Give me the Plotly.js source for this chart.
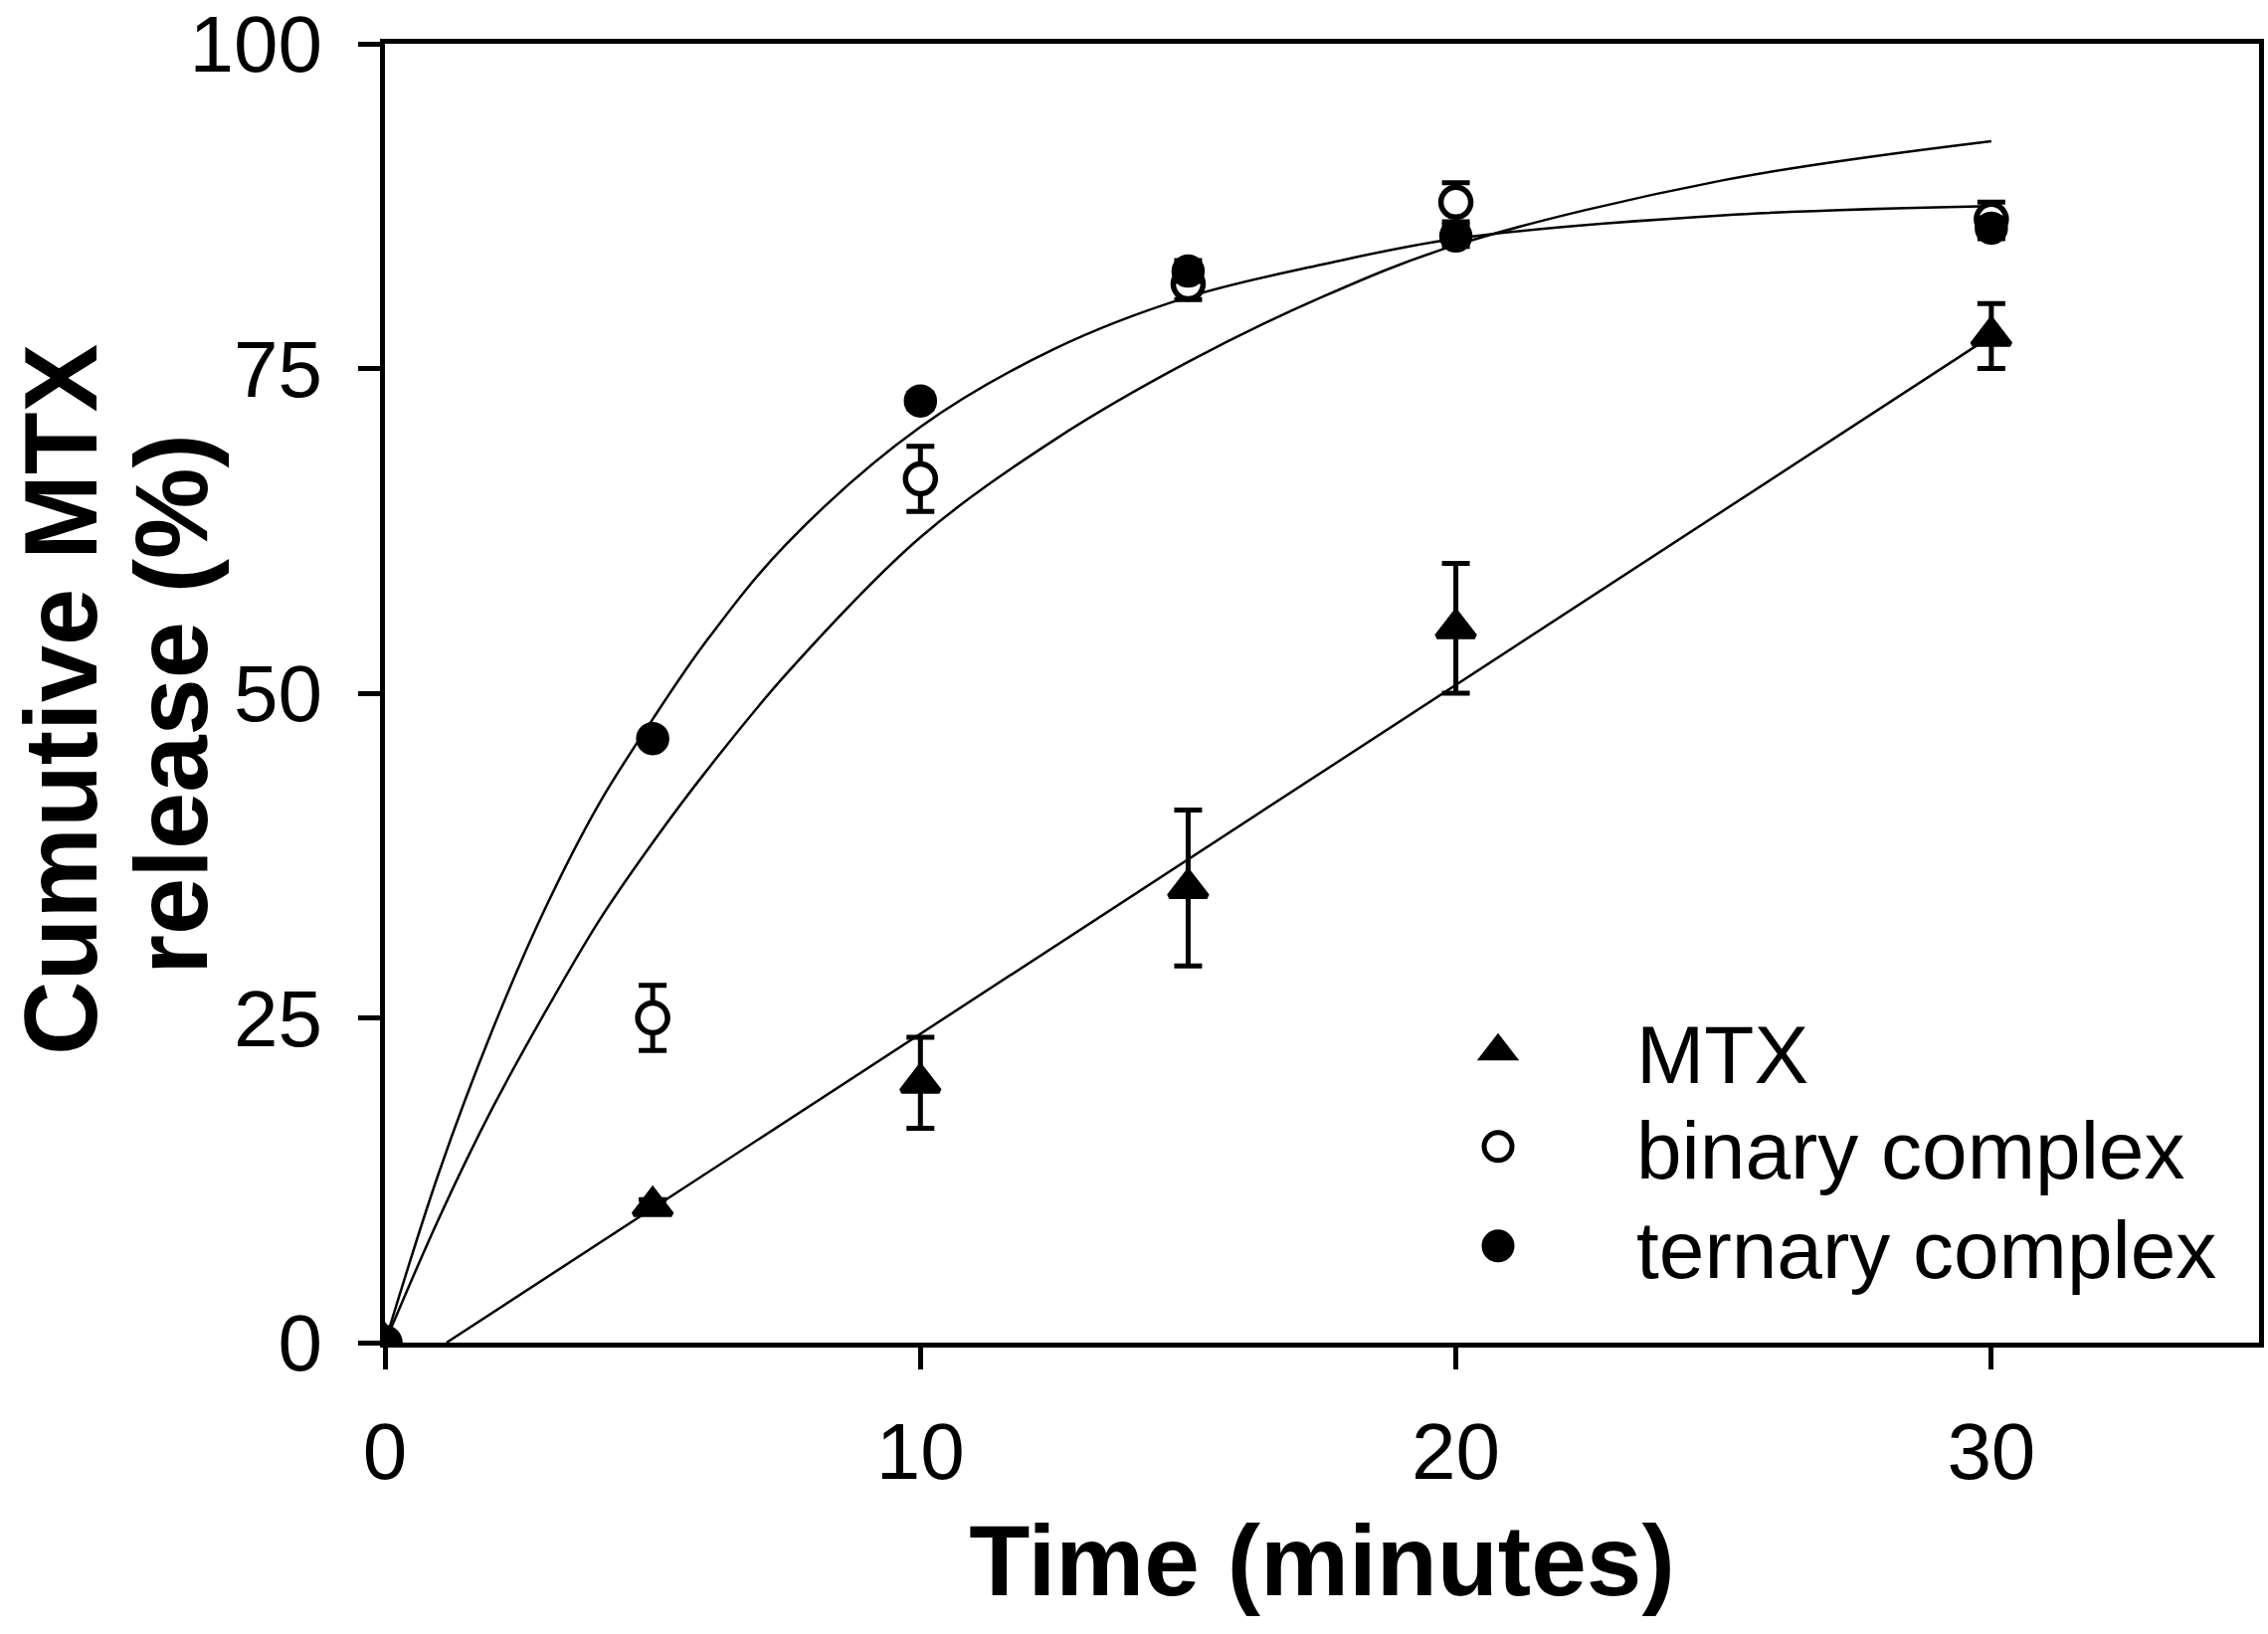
<!DOCTYPE html>
<html>
<head>
<meta charset="utf-8">
<script src="https://cdn.plot.ly/plotly-3.0.1.min.js"></script>
<style>
  html, body { margin: 0; padding: 0; background: #fff; }
  #chart { width: 2280px; height: 1643px; }
</style>
</head>
<body>
<div id="chart"></div>
<script>
// time points, minutes
const timeMin = [0, 5, 10, 15, 20, 30];

// cumulative release, %
const mtxRelease = [0, 10.5, 20, 35, 55, 77.5];
const mtxErr = [0, 0.5, 3.5, 6, 5, 2.5];

const binaryRelease = [0, 25, 66.5, 81.5, 87.8, 86.5];
const binaryErr = [0, 2.5, 2.5, 1.2, 1.5, 1.3];

const ternaryRelease = [0, 46.5, 72.5, 82.5, 85.2, 85.8];
const ternaryErr = [0, 0.5, 0.6, 0.8, 0.8, 0.8];

// fitted curves as drawn in the figure
const mtxFitX = [1.15, 30];
const mtxFitY = [0, 77.5];

const curveX = [0, 1, 2, 3, 4, 5, 6, 7.5, 10, 12.5, 15, 17.5, 20, 25, 30];
const binaryFitY = [0, 9.5, 18, 25.5, 32.5, 38.5, 44, 51.5, 62, 69.5, 75.5, 80.5, 84.5, 89.5, 92.5];
const ternaryFitY = [0, 13, 24, 33.5, 41.5, 48, 54, 61.5, 70.5, 76.5, 80.5, 83, 85, 86.8, 87.5];

const xTicks = [0, 10, 20, 30];
const yTicks = [0, 25, 50, 75, 100];

const FONT = 'Liberation Sans, Arial, Helvetica, sans-serif';

// plot box in page pixels, used to place legends / title lines
const PL = 387, PR = 2271, PT = 44, PB = 1350;
const px2x = (px) => (px - PL) / (PR - PL);
const px2y = (py) => (PB - py) / (PB - PT);

function fitLine(x, y, smooth) {
    return {
        x: x, y: y,
        mode: 'lines',
        line: {color: '#000', width: 2.5, shape: smooth ? 'spline' : 'linear'},
        showlegend: false,
        hoverinfo: 'skip'
    };
}

function points(name, y, err, symbol, fill, size, legend) {
    return {
        x: timeMin, y: y,
        name: name,
        legend: legend,
        mode: 'markers',
        marker: {
            symbol: symbol,
            size: size,
            color: fill,
            line: {color: '#000', width: 5.5}
        },
        error_y: {type: 'data', array: err, visible: true, color: '#000', thickness: 5, width: 14}
    };
}

const traces = [
    fitLine(mtxFitX, mtxFitY, false),
    fitLine(curveX, binaryFitY, true),
    fitLine(curveX, ternaryFitY, true),
    points('MTX', mtxRelease, mtxErr, 'triangle-up', '#000', 33, 'legend'),
    points('binary complex', binaryRelease, binaryErr, 'circle', '#fff', 30, 'legend2'),
    points('ternary complex', ternaryRelease, ternaryErr, 'circle', '#000', 28, 'legend3')
];

const axisCommon = {
    showgrid: false,
    zeroline: false,
    showline: true,
    linecolor: '#000',
    linewidth: 5,
    mirror: true,
    ticks: 'outside',
    ticklen: 22,
    tickwidth: 5,
    tickcolor: '#000',
    ticklabeloverflow: 'allow',
    tickfont: {family: FONT, size: 80, color: '#000'}
};

function legendAt(rowY) {
    return {
        x: px2x(1367),
        y: px2y(rowY),
        xanchor: 'left',
        yanchor: 'middle',
        bgcolor: 'rgba(0,0,0,0)',
        itemwidth: 268,
        font: {family: FONT, size: 82, color: '#000'}
    };
}

const layout = {
    width: 2280,
    height: 1643,
    margin: {l: PL, r: 2280 - PR, t: PT, b: 1643 - PB},
    paper_bgcolor: '#fff',
    plot_bgcolor: '#fff',
    font: {family: FONT, color: '#000'},
    xaxis: Object.assign({}, axisCommon, {
        range: [0, 35],
        tickvals: xTicks,
        ticklabelstandoff: 14,
        title: {text: '<b>Time (minutes)</b>', font: {family: FONT, size: 100, color: '#000'}, standoff: 32}
    }),
    yaxis: Object.assign({}, axisCommon, {
        range: [0, 100],
        tickvals: yTicks,
        ticklabelstandoff: 20
    }),
    legend: legendAt(1057),
    legend2: legendAt(1153),
    legend3: legendAt(1253),
    annotations: [
        {
            text: '<b>Cumutive MTX</b>',
            xref: 'paper', yref: 'paper',
            x: px2x(61), y: px2y(704),
            xanchor: 'center', yanchor: 'middle',
            textangle: -90, showarrow: false,
            font: {family: FONT, size: 103, color: '#000'}
        },
        {
            text: '<b>release (%)</b>',
            xref: 'paper', yref: 'paper',
            x: px2x(172), y: px2y(708),
            xanchor: 'center', yanchor: 'middle',
            textangle: -90, showarrow: false,
            font: {family: FONT, size: 103, color: '#000'}
        }
    ]
};

const gd = document.getElementById('chart');
Plotly.newPlot(gd, traces, layout, {displayModeBar: false, staticPlot: true}).then(() => {
    // legend symbols are capped at 16px by plotly, blow them up to match the plot markers
    const k = 1.75;
    gd.querySelectorAll('.legendpoints path.scatterpts').forEach((p) => {
        const t = p.getAttribute('transform') || '';
        p.setAttribute('transform', t + ' scale(' + k + ')');
        const sw = parseFloat(p.style.strokeWidth) || 0;
        p.style.strokeWidth = (sw / k) + 'px';
    });
});
</script>
</body>
</html>
